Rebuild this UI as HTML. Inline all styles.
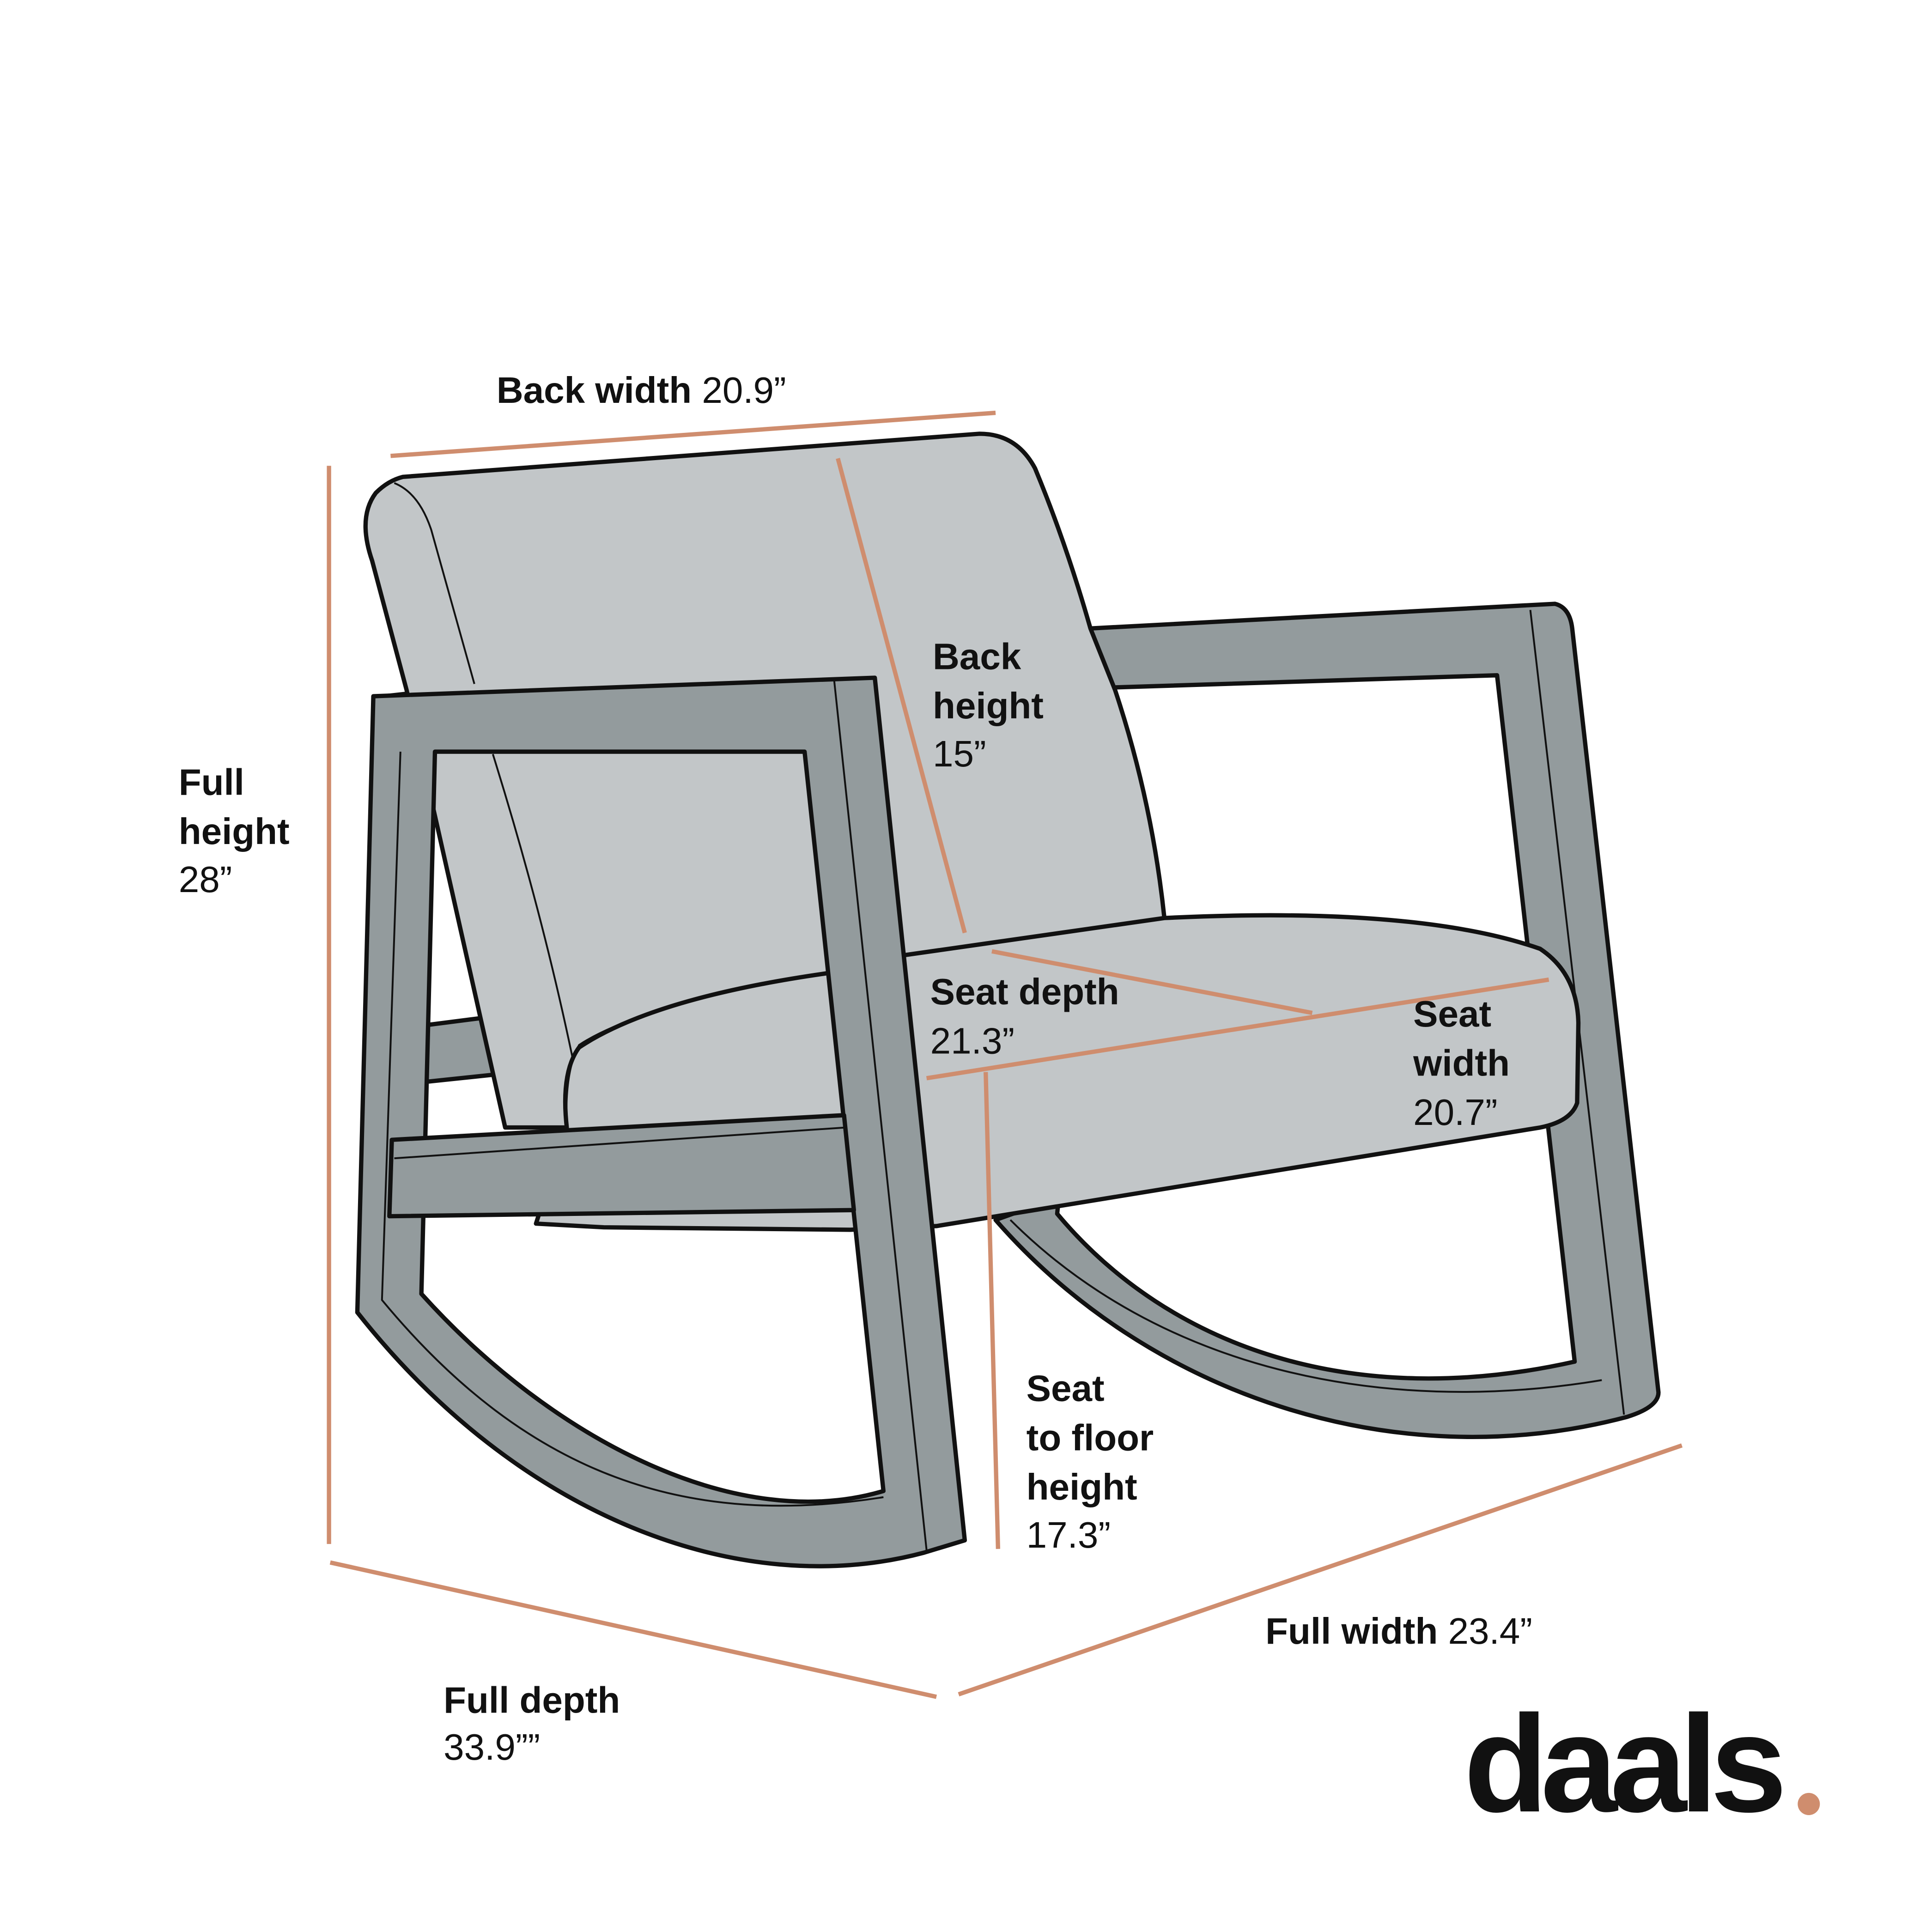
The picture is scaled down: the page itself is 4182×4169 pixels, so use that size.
<!DOCTYPE html>
<html><head><meta charset="utf-8"><style>
html,body{margin:0;padding:0;background:#fff;}
svg{display:block;}
text{font-family:"Liberation Sans",sans-serif;fill:#111;}
.b{font-weight:bold;}
</style></head><body>
<svg width="4182" height="4169" viewBox="0 0 1568 1563" preserveAspectRatio="none" xmlns="http://www.w3.org/2000/svg">
<rect width="1568" height="1563" fill="#fff"/>
<g stroke="#111" stroke-width="3.5" stroke-linejoin="round">
<path fill-rule="evenodd" fill="#939b9d" d="M885,510 L1262,490 Q1274,493 1276,510 L1346,1130 Q1346,1142 1320,1150 C1130,1200 930,1130 808,990 L850,975 L870,560 Z M900,558 L1215,548 L1278,1105 C1100,1145 950,1095 858,985 Z"/>
<path fill="none" stroke-width="1.5" d="M1242,495 L1318,1148 M820,990 C940,1110 1120,1150 1300,1120"/>
<path fill="#939b9d" d="M345,832 L392,826 L402,872 L345,878 Z"/>
<path fill="#c2c6c8" d="M327,387 L795,352 Q825,352 840,380 Q865,440 885,510 L905,560 Q935,650 945,745 L700,800 L470,915 L410,915 L330,560 L302,455 Q290,420 305,400 Q315,390 327,387 Z"/>
<path fill="none" stroke-width="1.5" d="M320,392 Q340,400 350,430 L385,555 M400,612 Q440,740 465,860"/>
<path fill="#c2c6c8" d="M945,745 Q1150,735 1250,770 Q1280,790 1281,830 L1280,895 Q1275,910 1250,915 L760,995 L690,998 L490,996 L435,993 L460,915 Q455,870 470,850 Q530,810 670,790 L735,775 Z"/>
<path fill="none" stroke-width="1.5" d="M670,790 Q520,815 470,848 Q458,870 460,915"/>
<path fill-rule="evenodd" fill="#939b9d" d="M303,565 L710,550 L783,1250 L750,1260 C600,1300 420,1230 290,1065 Z M353,610 L653,610 L717,1210 C600,1245 450,1170 342,1050 Z"/>
<path fill="none" stroke-width="1.5" d="M325,610 L310,1055 C430,1200 560,1240 717,1215 M677,552 L752,1258 M303,565 L330,562"/>
<path fill="#939b9d" d="M318,925 L685,905 L693,982 L316,987 Z"/>
<path fill="none" stroke-width="1.5" d="M320,940 L686,915"/>
</g>
<g stroke="#cf8d6e" stroke-width="3.5" fill="none">
<line x1="317" y1="370" x2="808" y2="335"/>
<line x1="267" y1="378" x2="267" y2="1253"/>
<line x1="680" y1="372" x2="783" y2="757"/>
<line x1="805" y1="772" x2="1065" y2="822"/>
<line x1="752" y1="875" x2="1257" y2="795"/>
<line x1="800" y1="870" x2="810" y2="1257"/>
<line x1="268" y1="1268" x2="760" y2="1377"/>
<line x1="778" y1="1375" x2="1365" y2="1173"/>
</g>
<g font-size="30">
<text x="403" y="327"><tspan class="b">Back width</tspan> 20.9”</text>
<text x="145" y="645" class="b">Full</text>
<text x="145" y="685" class="b">height</text>
<text x="145" y="724">28”</text>
<text x="757" y="543" class="b">Back</text>
<text x="757" y="583" class="b">height</text>
<text x="757" y="622">15”</text>
<text x="755" y="815" class="b">Seat depth</text>
<text x="755" y="855">21.3”</text>
<text x="1147" y="833" class="b">Seat</text>
<text x="1147" y="873" class="b">width</text>
<text x="1147" y="913">20.7”</text>
<text x="833" y="1137" class="b">Seat</text>
<text x="833" y="1177" class="b">to floor</text>
<text x="833" y="1217" class="b">height</text>
<text x="833" y="1256">17.3”</text>
<text x="1027" y="1334"><tspan class="b">Full width</tspan> 23.4”</text>
<text x="360" y="1390" class="b">Full depth</text>
<text x="360" y="1428">33.9””</text>
</g>
<text x="1188" y="1470" font-size="112" font-weight="bold" letter-spacing="-6" fill="#231f20">daals</text>
<circle cx="1468" cy="1464" r="9" fill="#cf8d6e"/>
</svg>
</body></html>
